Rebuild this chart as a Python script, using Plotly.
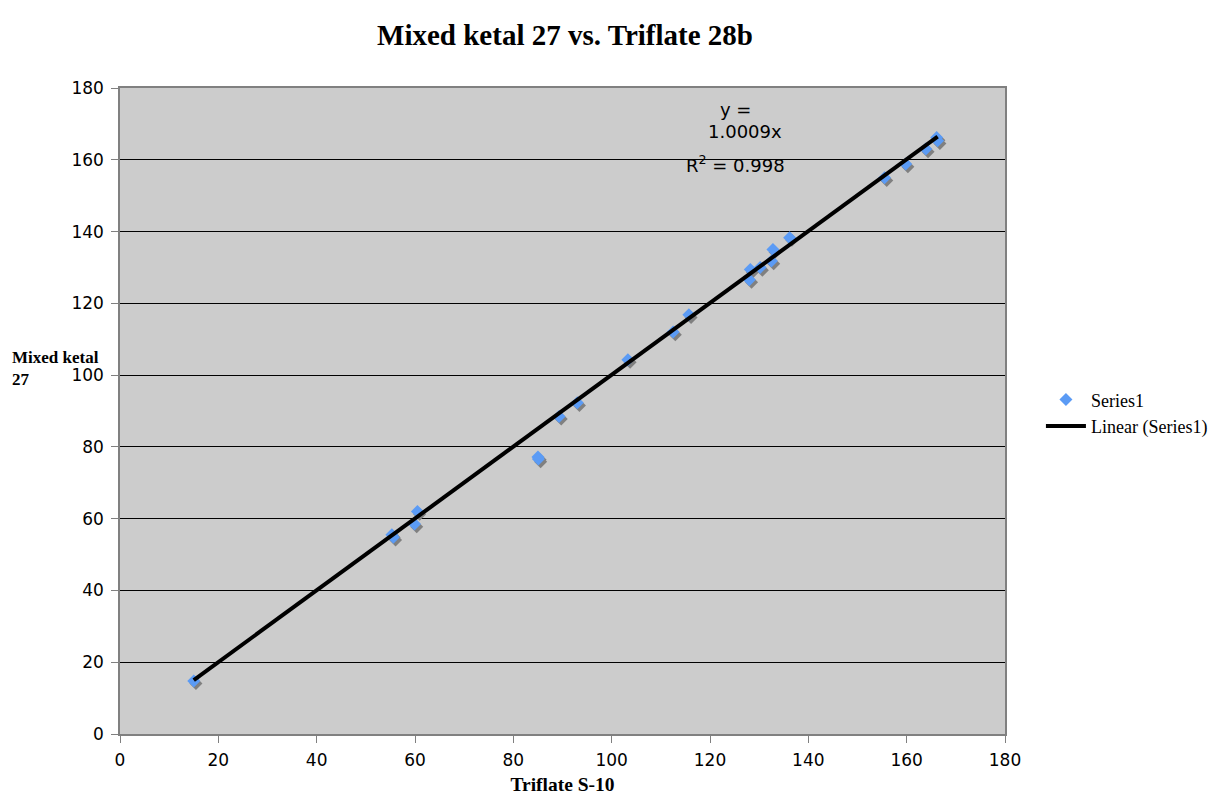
import plotly.graph_objects as go

# ---- data ----
triflate_s10 = [15, 55.3, 55.6, 59.9, 60.5, 85.0, 85.1, 89.3, 93.0, 103.3, 112.5, 115.7,
                128.0, 128.2, 130.2, 132.5, 132.8, 136.2, 155.5, 159.8, 163.9, 166.1, 166.3]
mixed_ketal_27 = [14.8, 55.5, 54.8, 58.5, 62.0, 77.2, 76.6, 88.5, 92.3, 104.3, 112.0, 116.8,
                  126.6, 129.4, 130.0, 131.8, 135.0, 138.3, 155.0, 158.8, 163.0, 166.2, 165.3]
trend_slope = 1.0009
r_squared = 0.998
tick_vals = [0, 20, 40, 60, 80, 100, 120, 140, 160, 180]

trend_x = [min(triflate_s10), max(triflate_s10)]
trend_y = [trend_slope * v for v in trend_x]

fig = go.Figure()

# empty trace so the main (visible) axes are drawn
fig.add_trace(go.Scatter(x=[], y=[], mode="markers", showlegend=False, hoverinfo="skip"))

# shadow of markers (overlay axis pair, range shifted by a couple of pixels)
fig.add_trace(go.Scatter(
    x=triflate_s10, y=mixed_ketal_27, mode="markers", xaxis="x2", yaxis="y2",
    marker=dict(symbol="diamond", size=10, color="#808080"),
    showlegend=False, hoverinfo="skip"))

fig.add_trace(go.Scatter(
    x=triflate_s10, y=mixed_ketal_27, mode="markers", name="Series1",
    xaxis="x3", yaxis="y3",
    marker=dict(symbol="diamond", size=10, color="#5B9BF5")))

fig.add_trace(go.Scatter(
    x=trend_x, y=trend_y, mode="lines", name="Linear (Series1)",
    xaxis="x3", yaxis="y3",
    line=dict(color="black", width=4)))

tick_font = dict(family="DejaVu Sans", size=17, color="black")
serif = "Liberation Serif"

fig.update_layout(
    width=1217, height=800,
    margin=dict(l=112, r=218, t=80, b=74),
    paper_bgcolor="white", plot_bgcolor="#CCCCCC",
    title=dict(text="<b>Mixed ketal 27 vs. Triflate 28b</b>",
               font=dict(family=serif, size=29, color="black"),
               x=0.4577, xanchor="center", y=0.966, yanchor="middle"),
    xaxis=dict(range=[0, 180], tickvals=tick_vals, showgrid=False, zeroline=False,
               showline=True, linecolor="#808080", linewidth=1.5, mirror=True,
               ticks="outside", ticklen=7, tickcolor="#808080", tickfont=tick_font,
               ticklabelstandoff=3,
               title=dict(text="<b>Triflate S-10</b>", font=dict(family=serif, size=19.5, color="black"),
                          standoff=8)),
    yaxis=dict(range=[0, 180], tickvals=tick_vals, showgrid=True, gridcolor="black", gridwidth=1,
               zeroline=False, showline=True, linecolor="#808080", linewidth=1.5, mirror=True,
               ticks="outside", ticklen=7, tickcolor="#808080", tickfont=tick_font,
               ticklabelstandoff=4),
    xaxis2=dict(range=[-0.45, 179.55], overlaying="x", visible=False),
    yaxis2=dict(range=[0.75, 180.75], overlaying="y", visible=False),
    xaxis3=dict(range=[0, 180], overlaying="x", visible=False),
    yaxis3=dict(range=[0, 180], overlaying="y", visible=False),
    legend=dict(x=1.0406, y=0.546, xanchor="left", yanchor="top",
                font=dict(family=serif, size=18, color="black"),
                itemwidth=40, bgcolor="rgba(0,0,0,0)", tracegroupgap=0),
    showlegend=True,
)

ytitle_font = dict(family=serif, size=17, color="black")
fig.add_annotation(x=0.0, xref="paper", xanchor="left", xshift=-110,
                   y=(734 - 357) / 646, yref="paper", yanchor="middle", align="left",
                   text="<b>Mixed ketal</b>", showarrow=False, font=ytitle_font)
fig.add_annotation(x=0.0, xref="paper", xanchor="left", xshift=-110,
                   y=(734 - 379) / 646, yref="paper", yanchor="middle", align="left",
                   text="<b>27</b>", showarrow=False, font=ytitle_font)

eq_font = dict(family="DejaVu Sans", size=18, color="black")
fig.add_annotation(x=125.2, y=174.0, text="y =", showarrow=False, font=eq_font)
fig.add_annotation(x=127.1, y=168.0, text=f"{trend_slope}x", showarrow=False, font=eq_font)
fig.add_annotation(x=125.2, y=158.9, text=f"R<sup>2</sup> = {r_squared}", showarrow=False, font=eq_font)

fig.write_html("out.html")
